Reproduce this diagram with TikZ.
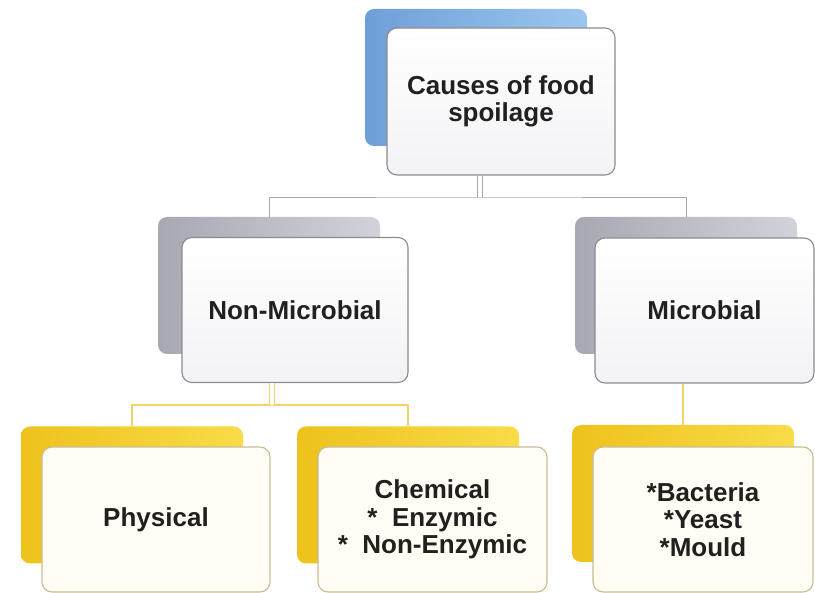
\documentclass[tikz,border=0pt]{standalone}
\usepackage{fontspec}
\setmainfont{Liberation Sans}
\definecolor{blueA}{HTML}{6E9FD8}
\definecolor{blueB}{HTML}{9CC6EE}
\definecolor{grayA}{HTML}{A8A8B2}
\definecolor{grayB}{HTML}{D2D2DA}
\definecolor{yelA}{HTML}{EEC21C}
\definecolor{yelB}{HTML}{F8DC48}
\definecolor{frameG}{HTML}{8A8A90}
\definecolor{frameY}{HTML}{C9BC94}
\definecolor{creamF}{HTML}{FFFDF4}
\definecolor{lineG}{HTML}{A8A8A8}
\definecolor{lineY}{HTML}{F0D56A}
\definecolor{whiteB}{HTML}{F3F3F6}
\definecolor{txt}{HTML}{202020}
\tikzset{
  backbox/.style={rounded corners=9pt, minimum width=222pt, minimum height=137pt, draw=none},
  bluebox/.style={backbox, left color=blueA, right color=blueB},
  graybox/.style={backbox, left color=grayA, right color=grayB},
  yelbox/.style={backbox, left color=yelA, right color=yelB},
  frontbox/.style={rounded corners=10pt, minimum width=226pt, minimum height=145pt,
    line width=1.1pt, align=center, text=txt,
    font=\fontsize{26}{27.5}\selectfont\bfseries},
  whitebox/.style={frontbox, draw=frameG, top color=white, bottom color=whiteB},
  creambox/.style={frontbox, draw=frameY, fill=creamF},
  glink/.style={draw=lineG, line width=0.9pt},
  ylink/.style={draw=lineY, line width=1.4pt},
  dbl/.style={double=white, double distance=4pt}
}
\begin{document}
\begin{tikzpicture}[x=1pt,y=-1pt]
\useasboundingbox (0,0) rectangle (815,593);
% top
\node[bluebox] (topb) at (476,77.5) {};
% level 2 back
\node[graybox] (nmb) at (269,285.5) {};
\node[graybox] (mb) at (686,285.5) {};
% level 3 back
\node[yelbox] (phb) at (132,495) {};
\node[yelbox] (chb) at (408,495) {};
\node[yelbox] (mlb) at (683,493.5) {};
% junctions
\coordinate (jt) at (480,197);
\coordinate (jn) at (271.5,405);
% connectors level 1
\draw[glink] (nmb.north) |- (jt) -| (mb.north);
% fronts
\node[whitebox, minimum width=228pt, minimum height=147pt] (top) at (501,101.5) {Causes of food\\spoilage};
\draw[glink, dbl] (top.south -| jt) -- (jt);
\node[whitebox] (nm) at (295,310) {Non-Microbial};
\node[whitebox, minimum width=219pt] (m) at (704.5,310.5) {Microbial};
\draw[ylink] (phb.north) |- (jn) -| (chb.north);
\draw[draw=lineY, line width=1pt, dbl] (nm.south -| jn) -- (jn);
\draw[ylink] (m.south -| mlb.north) -- (mlb.north);
\node[creambox, minimum width=228pt] (ph) at (156,519.5) {Physical};
\node[creambox, minimum width=229pt] (ch) at (432.5,519.5) {Chemical\\*\ \ Enzymic\\*\ \ Non-Enzymic};
\node[creambox, minimum width=220pt] (ml) at (703,519.5) {*Bacteria\\*Yeast\\*Mould};
\end{tikzpicture}
\end{document}
